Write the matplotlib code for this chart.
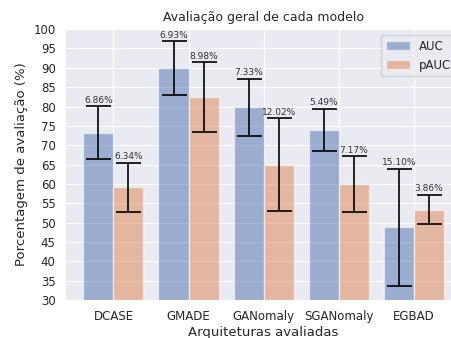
import numpy as np
import matplotlib
matplotlib.use("Agg")
import matplotlib.pyplot as plt
import seaborn as sns

models = ["DCASE", "GMADE", "GANomaly", "SGANomaly", "EGBAD"]
auc = [73.2, 89.9, 79.8, 73.9, 48.8]
auc_err = [6.86, 6.93, 7.33, 5.49, 15.10]
pauc = [59.1, 82.4, 65.0, 60.0, 53.4]
pauc_err = [6.34, 8.98, 12.02, 7.17, 3.86]


def main():
    sns.set_style("darkgrid")
    fig, ax = plt.subplots(figsize=(4.51, 3.38), dpi=100)

    x = np.arange(len(models))
    w = 0.4
    ax.bar(x - w / 2, auc, w, yerr=auc_err, capsize=9, color="#4C72B0",
           alpha=0.5, label="AUC", error_kw=dict(elinewidth=1.2, capthick=1.2))
    ax.bar(x + w / 2, pauc, w, yerr=pauc_err, capsize=9, color="#DD8452",
           alpha=0.5, label="pAUC", error_kw=dict(elinewidth=1.2, capthick=1.2))

    # rotulos com o desvio
    for xi, v, e in zip(x - w / 2, auc, auc_err):
        ax.text(xi, v + e + 0.4, "%.2f%%" % e, ha="center", va="bottom",
                fontsize=6.5, color="#333333")
    for xi, v, e in zip(x + w / 2, pauc, pauc_err):
        ax.text(xi, v + e + 0.4, "%.2f%%" % e, ha="center", va="bottom",
                fontsize=6.5, color="#333333")

    ax.set_ylim(30, 100)
    ax.set_yticks(np.arange(30, 101, 5))
    ax.set_xticks(x)
    ax.set_xticklabels(models)
    ax.tick_params(labelsize=8.5)
    ax.set_title("Avaliação geral de cada modelo", fontsize=9)
    ax.set_xlabel("Arquiteturas avaliadas", fontsize=9.5, labelpad=2)
    ax.set_ylabel("Porcentagem de avaliação (%)", fontsize=9.5)
    ax.legend(loc="upper right", fontsize=8.5)

    # o eixo passa um pouco da borda da figura, como no original
    fig.subplots_adjust(left=0.145, right=1.024, top=0.914, bottom=0.112)
    fig.savefig("out.png")


if __name__ == "__main__":
    main()
